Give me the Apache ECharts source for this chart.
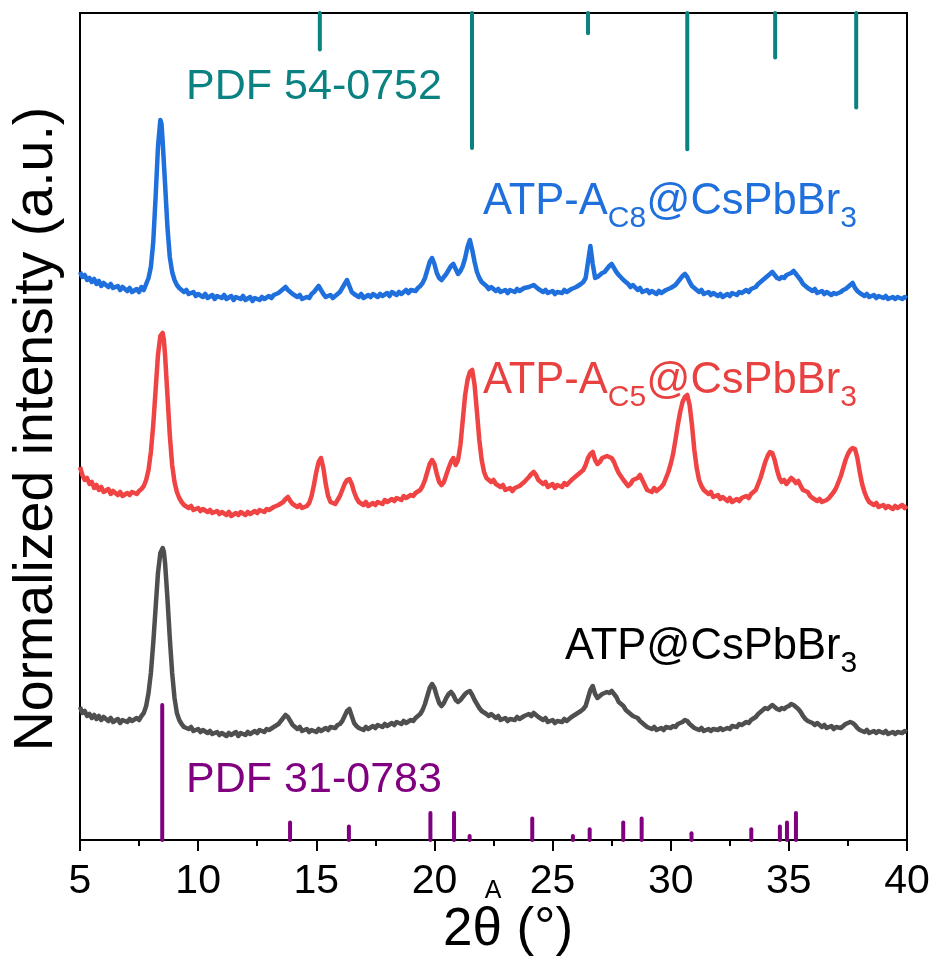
<!DOCTYPE html>
<html>
<head>
<meta charset="utf-8">
<title>XRD patterns</title>
<script src="https://cdn.jsdelivr.net/npm/echarts@6/dist/echarts.min.js"></script>
<style>
  html, body { margin: 0; padding: 0; background: #fff; }
  #chart { width: 938px; height: 963px; }
</style>
</head>
<body>
<div id="chart"></div>
<script>
// 2θ (°) and intensity (counts above each pattern's own baseline)
const patternC8 = [
  [5.0,30],[5.1,25],[5.2,27],[5.3,22],[5.4,24],[5.5,20],[5.6,23],[5.7,18],[5.8,21],[5.9,16],
  [6.0,19],[6.2,15],[6.3,18],[6.4,14],[6.6,16],[6.7,12],[6.8,15],[7.0,11],[7.1,14],[7.2,10],
  [7.4,13],[7.5,10],[7.6,15],[7.7,12],[7.8,18],[7.9,24],[8.0,35],[8.1,60],[8.2,105],[8.3,155],
  [8.4,182],[8.45,178],[8.5,160],[8.6,118],[8.7,75],[8.8,45],[8.9,30],[9.0,22],[9.1,17],[9.2,14],
  [9.4,10],[9.5,12],[9.6,8],[9.8,10],[9.9,6],[10.0,8],[10.2,5],[10.3,8],[10.4,4],[10.6,7],
  [10.7,3],[10.8,6],[11.0,4],[11.1,7],[11.2,3],[11.4,6],[11.5,2],[11.6,5],[11.8,3],[11.9,6],
  [12.0,2],[12.2,5],[12.3,1],[12.4,4],[12.6,2],[12.7,5],[12.8,3],[13.0,6],[13.1,4],[13.2,7],
  [13.4,9],[13.5,11],[13.6,13],[13.7,15],[13.8,12],[13.9,10],[14.0,8],[14.2,5],[14.3,7],[14.4,3],
  [14.6,5],[14.7,4],[14.8,8],[14.9,10],[15.0,13],[15.1,16],[15.2,12],[15.3,8],[15.4,5],[15.6,7],
  [15.7,4],[15.8,6],[15.9,8],[16.0,10],[16.1,14],[16.2,18],[16.3,22],[16.4,16],[16.5,10],[16.6,8],
  [16.8,5],[16.9,8],[17.0,4],[17.2,7],[17.3,5],[17.4,8],[17.6,5],[17.7,8],[17.8,6],[18.0,9],
  [18.1,6],[18.2,10],[18.4,7],[18.5,10],[18.6,8],[18.8,12],[18.9,9],[19.0,12],[19.2,11],[19.3,14],
  [19.4,16],[19.5,19],[19.6,24],[19.7,32],[19.8,40],[19.9,44],[20.0,38],[20.1,29],[20.2,24],[20.3,22],
  [20.4,25],[20.5,28],[20.6,32],[20.7,36],[20.8,38],[20.9,33],[21.0,28],[21.1,31],[21.2,36],[21.3,44],
  [21.4,55],[21.5,62],[21.6,52],[21.7,40],[21.8,30],[21.9,24],[22.0,20],[22.2,16],[22.3,13],[22.4,15],
  [22.6,11],[22.7,13],[22.8,10],[23.0,12],[23.1,9],[23.2,12],[23.4,10],[23.5,13],[23.6,11],[23.8,14],
  [24.0,15],[24.2,17],[24.3,15],[24.4,13],[24.6,10],[24.7,12],[24.8,9],[25.0,11],[25.1,8],[25.2,10],
  [25.4,9],[25.5,12],[25.6,10],[25.8,13],[26.0,15],[26.2,18],[26.3,20],[26.4,24],[26.5,40],[26.6,56],
  [26.7,38],[26.8,24],[26.9,25],[27.0,27],[27.1,29],[27.2,30],[27.3,33],[27.4,36],[27.5,38],[27.6,34],
  [27.7,30],[27.8,27],[28.0,22],[28.2,18],[28.3,15],[28.4,17],[28.6,12],[28.7,14],[28.8,10],[29.0,12],
  [29.1,9],[29.2,11],[29.4,8],[29.5,11],[29.6,9],[29.8,12],[30.0,14],[30.2,17],[30.3,20],[30.4,23],
  [30.5,26],[30.6,28],[30.7,25],[30.8,20],[30.9,16],[31.0,14],[31.2,10],[31.3,12],[31.4,8],[31.6,10],
  [31.7,7],[31.8,9],[32.0,6],[32.1,8],[32.2,5],[32.4,8],[32.5,6],[32.6,9],[32.8,7],[32.9,10],
  [33.0,9],[33.2,12],[33.3,10],[33.4,13],[33.6,15],[33.7,18],[33.8,20],[33.9,22],[34.0,24],[34.1,26],
  [34.2,28],[34.3,30],[34.4,27],[34.5,24],[34.6,23],[34.7,25],[34.8,24],[34.9,27],[35.0,28],[35.1,29],
  [35.2,31],[35.3,28],[35.4,25],[35.5,22],[35.6,18],[35.7,16],[35.8,14],[36.0,11],[36.1,13],[36.2,9],
  [36.4,11],[36.5,8],[36.6,10],[36.8,7],[36.9,9],[37.0,8],[37.2,10],[37.3,12],[37.4,13],[37.5,15],
  [37.6,17],[37.7,19],[37.8,14],[37.9,11],[38.0,9],[38.2,6],[38.3,8],[38.4,5],[38.6,7],[38.7,4],
  [38.8,6],[39.0,4],[39.1,6],[39.2,3],[39.4,5],[39.5,3],[39.6,5],[39.8,3],[39.9,5],[40.0,4]
];

const patternC5 = [
  [5.0,53],[5.1,45],[5.2,40],[5.3,42],[5.4,36],[5.5,38],[5.6,32],[5.7,35],[5.8,30],[5.9,33],
  [6.0,28],[6.2,31],[6.3,26],[6.4,29],[6.6,25],[6.7,28],[6.8,24],[7.0,27],[7.1,25],[7.2,28],
  [7.4,26],[7.5,29],[7.6,31],[7.7,34],[7.8,40],[7.9,50],[8.0,68],[8.1,95],[8.2,130],[8.3,165],
  [8.4,184],[8.5,187],[8.55,180],[8.6,165],[8.7,125],[8.8,85],[8.9,55],[9.0,38],[9.1,28],[9.2,22],
  [9.3,18],[9.4,15],[9.6,12],[9.7,14],[9.8,10],[10.0,12],[10.1,9],[10.2,11],[10.4,8],[10.5,10],
  [10.6,7],[10.8,9],[10.9,6],[11.0,8],[11.2,5],[11.3,8],[11.4,4],[11.6,7],[11.7,5],[11.8,8],
  [12.0,5],[12.1,8],[12.2,6],[12.4,9],[12.5,7],[12.6,10],[12.8,8],[12.9,11],[13.0,10],[13.2,13],
  [13.4,15],[13.6,18],[13.7,21],[13.8,23],[13.9,19],[14.0,16],[14.2,13],[14.3,15],[14.4,12],[14.6,14],
  [14.7,17],[14.8,24],[14.9,35],[15.0,48],[15.1,58],[15.2,62],[15.3,52],[15.4,36],[15.5,24],[15.6,18],
  [15.8,16],[15.9,20],[16.0,24],[16.1,30],[16.2,36],[16.3,40],[16.4,41],[16.5,36],[16.6,28],[16.7,22],
  [16.8,18],[17.0,15],[17.1,18],[17.2,14],[17.4,17],[17.5,15],[17.6,18],[17.8,16],[17.9,20],[18.0,18],
  [18.2,21],[18.3,19],[18.4,22],[18.6,20],[18.7,24],[18.8,22],[19.0,25],[19.1,24],[19.2,27],[19.4,30],
  [19.5,34],[19.6,40],[19.7,48],[19.8,56],[19.9,60],[20.0,56],[20.1,46],[20.2,38],[20.3,35],[20.4,38],
  [20.5,45],[20.6,52],[20.7,58],[20.8,62],[20.9,55],[21.0,60],[21.1,75],[21.2,100],[21.3,125],[21.4,140],
  [21.5,148],[21.6,150],[21.7,135],[21.8,108],[21.9,80],[22.0,60],[22.1,48],[22.2,42],[22.3,40],[22.4,38],
  [22.5,40],[22.6,36],[22.8,33],[22.9,35],[23.0,30],[23.2,32],[23.3,29],[23.4,32],[23.6,34],[23.7,36],
  [23.8,38],[24.0,43],[24.1,46],[24.2,48],[24.3,45],[24.4,40],[24.6,36],[24.7,38],[24.8,33],[25.0,36],
  [25.1,32],[25.2,35],[25.4,33],[25.5,37],[25.6,35],[25.8,40],[26.0,44],[26.2,48],[26.3,50],[26.4,55],
  [26.5,62],[26.6,66],[26.7,68],[26.8,60],[26.9,56],[27.0,58],[27.1,62],[27.2,63],[27.3,64],[27.4,63],
  [27.5,62],[27.6,58],[27.7,52],[27.8,47],[28.0,40],[28.1,37],[28.2,34],[28.3,36],[28.4,40],[28.6,42],
  [28.7,45],[28.8,40],[28.9,35],[29.0,30],[29.2,28],[29.3,32],[29.4,29],[29.6,33],[29.7,36],[29.8,42],
  [29.9,48],[30.0,56],[30.1,66],[30.2,80],[30.3,95],[30.4,108],[30.5,118],[30.6,123],[30.7,125],[30.8,115],
  [30.9,95],[31.0,70],[31.1,52],[31.2,40],[31.3,34],[31.4,30],[31.6,26],[31.7,28],[31.8,23],[32.0,25],
  [32.1,21],[32.2,23],[32.4,19],[32.5,22],[32.6,18],[32.8,21],[32.9,19],[33.0,22],[33.2,24],[33.3,22],
  [33.4,26],[33.6,30],[33.7,36],[33.8,42],[33.9,50],[34.0,58],[34.1,64],[34.2,68],[34.3,67],[34.4,60],
  [34.5,50],[34.6,42],[34.7,38],[34.8,40],[34.9,36],[35.0,39],[35.1,42],[35.2,40],[35.3,37],[35.4,39],
  [35.5,34],[35.6,30],[35.8,28],[35.9,24],[36.0,22],[36.2,19],[36.3,21],[36.4,18],[36.6,20],[36.7,22],
  [36.8,25],[36.9,28],[37.0,32],[37.1,38],[37.2,44],[37.3,52],[37.4,60],[37.5,66],[37.6,70],[37.7,72],
  [37.8,71],[37.9,62],[38.0,48],[38.1,36],[38.2,28],[38.3,22],[38.4,18],[38.6,15],[38.7,17],[38.8,13],
  [39.0,15],[39.1,12],[39.2,14],[39.4,11],[39.5,14],[39.6,12],[39.8,15],[39.9,12],[40.0,14]
];

const patternATP = [
  [5.0,31],[5.1,25],[5.2,27],[5.3,22],[5.4,24],[5.5,20],[5.6,23],[5.7,19],[5.8,22],[5.9,18],
  [6.0,21],[6.2,17],[6.3,20],[6.4,16],[6.6,19],[6.7,15],[6.8,18],[7.0,16],[7.1,19],[7.2,17],
  [7.4,20],[7.5,18],[7.6,22],[7.7,25],[7.8,32],[7.9,45],[8.0,65],[8.1,95],[8.2,130],[8.3,165],
  [8.4,185],[8.5,190],[8.55,186],[8.6,175],[8.7,140],[8.8,100],[8.9,65],[9.0,40],[9.1,25],[9.2,18],
  [9.3,14],[9.4,11],[9.6,9],[9.7,11],[9.8,7],[10.0,9],[10.1,6],[10.2,8],[10.4,5],[10.5,7],
  [10.6,4],[10.8,6],[10.9,3],[11.0,5],[11.2,2],[11.3,5],[11.4,3],[11.6,6],[11.7,2],[11.8,5],
  [12.0,3],[12.1,6],[12.2,4],[12.4,7],[12.5,5],[12.6,8],[12.8,6],[12.9,9],[13.0,8],[13.2,11],
  [13.4,14],[13.5,17],[13.6,20],[13.7,23],[13.8,21],[13.9,17],[14.0,13],[14.2,9],[14.3,11],[14.4,7],
  [14.6,9],[14.7,6],[14.8,8],[15.0,6],[15.1,9],[15.2,7],[15.4,10],[15.5,8],[15.6,11],[15.8,10],
  [15.9,13],[16.0,14],[16.1,17],[16.2,22],[16.3,27],[16.4,29],[16.5,22],[16.6,15],[16.7,12],[16.8,10],
  [17.0,8],[17.1,11],[17.2,9],[17.4,12],[17.5,10],[17.6,13],[17.8,11],[17.9,14],[18.0,12],[18.2,15],
  [18.3,13],[18.4,16],[18.6,14],[18.7,17],[18.8,15],[19.0,18],[19.1,17],[19.2,20],[19.4,24],[19.5,28],
  [19.6,34],[19.7,42],[19.8,50],[19.9,54],[20.0,50],[20.1,42],[20.2,35],[20.3,32],[20.4,35],[20.5,40],
  [20.6,44],[20.7,46],[20.8,43],[20.9,38],[21.0,36],[21.1,38],[21.2,41],[21.3,44],[21.4,46],[21.5,47],
  [21.6,43],[21.7,38],[21.8,34],[21.9,30],[22.0,27],[22.2,24],[22.3,22],[22.4,24],[22.6,20],[22.7,22],
  [22.8,18],[23.0,20],[23.1,17],[23.2,19],[23.4,18],[23.5,21],[23.6,19],[23.8,22],[24.0,24],[24.1,22],
  [24.2,25],[24.3,23],[24.4,21],[24.6,18],[24.7,20],[24.8,16],[25.0,18],[25.1,15],[25.2,17],[25.4,16],
  [25.5,19],[25.6,17],[25.8,21],[26.0,24],[26.2,27],[26.3,29],[26.4,32],[26.5,40],[26.6,48],[26.7,52],
  [26.8,44],[26.9,40],[27.0,42],[27.1,44],[27.2,45],[27.3,46],[27.4,45],[27.5,47],[27.6,44],[27.7,41],
  [27.8,36],[28.0,32],[28.1,28],[28.2,26],[28.3,24],[28.4,22],[28.6,20],[28.7,17],[28.8,15],[28.9,13],
  [29.0,11],[29.2,9],[29.3,11],[29.4,8],[29.6,10],[29.7,8],[29.8,11],[30.0,10],[30.1,12],[30.2,11],
  [30.3,14],[30.4,15],[30.5,16],[30.6,18],[30.7,17],[30.8,14],[30.9,12],[31.0,10],[31.2,8],[31.3,10],
  [31.4,7],[31.6,9],[31.7,7],[31.8,9],[32.0,8],[32.1,10],[32.2,8],[32.4,10],[32.5,9],[32.6,12],
  [32.8,11],[32.9,14],[33.0,13],[33.2,16],[33.3,15],[33.4,18],[33.6,21],[33.7,24],[33.8,26],[33.9,28],
  [34.0,30],[34.1,29],[34.2,31],[34.3,33],[34.4,31],[34.5,29],[34.6,28],[34.7,30],[34.8,29],[34.9,31],
  [35.0,32],[35.1,34],[35.2,33],[35.3,31],[35.4,29],[35.5,26],[35.6,22],[35.7,19],[35.8,17],[36.0,15],
  [36.1,13],[36.2,15],[36.4,11],[36.5,13],[36.6,10],[36.8,12],[36.9,9],[37.0,11],[37.2,10],[37.3,12],
  [37.4,14],[37.5,15],[37.6,16],[37.7,15],[37.8,13],[37.9,10],[38.0,8],[38.2,6],[38.3,8],[38.4,5],
  [38.6,7],[38.7,5],[38.8,7],[39.0,5],[39.1,7],[39.2,4],[39.4,6],[39.5,4],[39.6,6],[39.8,5],
  [39.9,7],[40.0,6]
];

// Reference card lines: [2θ, relative intensity]
const pdf54_0752 = [[15.15,27],[21.59,100],[26.5,15],[30.7,101],[34.42,33],[37.85,70]];
const pdf31_0783 = [
  [8.48,100],[13.89,13],[16.38,10],[19.83,20],[20.83,20],[21.49,3],[24.14,16],[25.86,3],
  [26.57,8],[27.99,13],[28.77,16],[30.88,5],[33.41,8],[34.62,10],[34.92,13],[35.3,20]
];

const xTicks = [5, 10, 15, 20, 25, 30, 35, 40];

// vertical layout of the stacked patterns (plot units)
const Y_MAX = 827;
const OFFSET = { c8: 538, c5: 320, atp: 102 };
const STICK_SCALE = 1.35;

const FONT = '"Liberation Sans", Arial, Helvetica, sans-serif';
const COLORS = {
  c8: '#1f6fdc', c5: '#f04343', atp: '#4f4f4f',
  pdf54: '#0b8282', pdf31: '#800080'
};

const shift = (arr, off) => arr.map(p => [p[0], p[1] + off]);

function curve(name, data, color) {
  return {
    name, type: 'line', data, showSymbol: false, symbol: 'none',
    lineStyle: { color, width: 4.5, join: 'round' },
    emphasis: { disabled: true }, silent: true, z: 3
  };
}

function sticks(name, data, color, fromTop) {
  return {
    name, type: 'custom', data, silent: true, z: 4,
    renderItem(params, api) {
      const x = api.value(0);
      const h = api.value(1) * STICK_SCALE;
      const a = api.coord([x, fromTop ? Y_MAX : 0]);
      const b = api.coord([x, fromTop ? Y_MAX - h : h]);
      return {
        type: 'line',
        shape: { x1: a[0], y1: a[1], x2: b[0], y2: b[1] },
        style: { stroke: color, lineWidth: 4, lineCap: 'round' }
      };
    }
  };
}

// text with subscripts, laid out piece by piece
const ctx = document.createElement('canvas').getContext('2d');
function textWidth(t, fs) { ctx.font = fs + 'px ' + FONT; return ctx.measureText(t).width; }
function formula(parts, x, y, color) {
  const out = [];
  let cx = x;
  parts.forEach(([t, sub]) => {
    const fs = sub ? 30 : 43.5;
    out.push({
      type: 'text', x: cx, y: sub ? y + 17 : y, silent: true, z: 10,
      style: { text: t, fontSize: fs, fontFamily: FONT, fill: color, align: 'left', verticalAlign: 'middle' }
    });
    cx += textWidth(t, fs);
  });
  return out;
}
function plainText(t, x, y, fs, color, extra) {
  return Object.assign({
    type: 'text', x, y, silent: true, z: 10,
    style: { text: t, fontSize: fs, fontFamily: FONT, fill: color, align: 'center', verticalAlign: 'middle' }
  }, extra || {});
}

const chart = echarts.init(document.getElementById('chart'), null, { renderer: 'canvas' });
chart.setOption({
  animation: false,
  backgroundColor: '#fff',
  grid: { left: 80, right: 31, top: 13, bottom: 123, show: true, borderColor: '#000', borderWidth: 2, backgroundColor: 'transparent' },
  xAxis: {
    type: 'value', min: 5, max: 40, interval: 5,
    axisLine: { show: true, lineStyle: { color: '#000', width: 2 } },
    axisTick: { show: true, inside: false, length: 11, lineStyle: { color: '#000', width: 2 } },
    minorTick: { show: true, splitNumber: 2, length: 6, lineStyle: { color: '#000', width: 2 } },
    axisLabel: {
      color: '#000', fontSize: 41, fontFamily: FONT, margin: 21,
      formatter: v => (xTicks.includes(v) ? String(v) : '')
    },
    splitLine: { show: false }
  },
  yAxis: {
    type: 'value', min: 0, max: Y_MAX,
    axisLine: { show: true, lineStyle: { color: '#000', width: 2 } },
    axisTick: { show: false }, axisLabel: { show: false }, splitLine: { show: false }
  },
  series: [
    curve('ATP-AC8@CsPbBr3', shift(patternC8, OFFSET.c8), COLORS.c8),
    curve('ATP-AC5@CsPbBr3', shift(patternC5, OFFSET.c5), COLORS.c5),
    curve('ATP@CsPbBr3', shift(patternATP, OFFSET.atp), COLORS.atp),
    sticks('PDF 54-0752', pdf54_0752, COLORS.pdf54, true),
    sticks('PDF 31-0783', pdf31_0783, COLORS.pdf31, false)
  ],
  graphic: [
    ...formula([['ATP-A', false], ['C8', true], ['@CsPbBr', false], ['3', true]], 483, 202, COLORS.c8),
    ...formula([['ATP-A', false], ['C5', true], ['@CsPbBr', false], ['3', true]], 483, 381, '#e94040'),
    ...formula([['ATP@CsPbBr', false], ['3', true]], 565, 647, '#000'),
    plainText('PDF 54-0752', 314, 87, 43, COLORS.pdf54),
    plainText('PDF 31-0783', 314, 780, 43, COLORS.pdf31),
    plainText('A', 493, 891, 25, '#000'),
    plainText('2θ (°)', 508, 930, 53, '#000'),
    plainText('Normalized intensity (a.u.)', 37, 429, 55.5, '#000', { rotation: Math.PI / 2 })
  ]
});
</script>
</body>
</html>
